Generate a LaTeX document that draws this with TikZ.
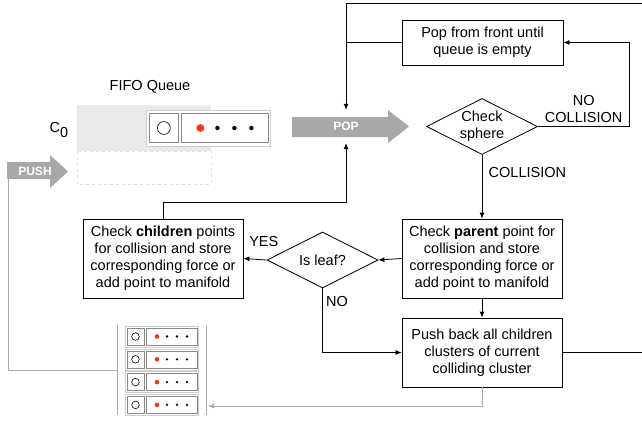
\documentclass[tikz,border=0pt]{standalone}
\usepackage{fontspec}
\setmainfont{Liberation Sans}
\usetikzlibrary{shapes.geometric,arrows.meta}

\definecolor{arrowgray}{HTML}{A8A8A8}
\definecolor{queuegray}{HTML}{E9E9E9}
\definecolor{cellgray}{HTML}{8A8A8A}
\definecolor{framegray}{HTML}{CDCDCD}
\definecolor{dashgray}{HTML}{E0E0E0}
\definecolor{wiregray}{HTML}{ABABAB}
\definecolor{dotred}{HTML}{F23A12}

\tikzset{
  box/.style={draw, line width=0.8pt, align=center, inner sep=0pt},
  test/.style={draw, diamond, aspect=2, line width=0.8pt, align=center,
    inner sep=0pt, minimum width=111pt, minimum height=56pt},
  flow/.style={line width=0.8pt, -{Latex[length=6pt,width=5pt]}},
  graywire/.style={line width=0.8pt, wiregray},
  tag/.style={font=\fontsize{12}{12}\selectfont\bfseries, text=white},
  fifocell/.pic={
    \draw[framegray, fill=white, line width=0.6pt] (0,-10.5) rectangle (73,10.5);
    \draw[cellgray, line width=0.6pt] (2,-8.5) rectangle (19,8.5);
    \draw[cellgray, line width=0.6pt] (21,-8.5) rectangle (72,8.5);
    \draw[black, line width=0.6pt] (10.5,0) circle (3.8);
    \fill[dotred] (32,0) circle (2.3);
    \foreach \d in {42,52,62}
      \fill (\d,0) circle (1.3);
  },
}

\begin{document}
\begin{tikzpicture}[x=1pt,y=-1pt,font=\fontsize{14.5}{17}\selectfont]
    \clip (0,0) rectangle (642,424);

    % queue
    \fill[queuegray] (77,105) rectangle (211,151);
    \draw[dashgray, dashed, line width=0.6pt] (77,151) rectangle (211,184);
    \node (fifo) at (150,87) {FIFO Queue};
    \node (c0) at (59,130) {C\raisebox{-5pt}{0}};
    \pic[scale=1.7] at (146,128) {fifocell};

    % fat arrows
    \fill[arrowgray] (292,117) -- (388,117) -- (388,110) -- (409,126.5)
        -- (388,143) -- (388,137) -- (292,137) -- cycle;
    \node[tag, minimum height=33pt] (pop) at (346,126.5) {POP};
    \fill[arrowgray] (7,162) -- (50,162) -- (50,155) -- (68,171.5)
        -- (50,188) -- (50,179) -- (7,179) -- cycle;
    \node[tag] (pushq) at (35,171) {PUSH};
    \coordinate (pushin) at (8,179);

    % steps
    \node[box, minimum width=161pt, minimum height=45pt] (front) at (482.5,42.5)
        {Pop from front until\\queue is empty};
    \node[test] (sphere) at (482,126.5) {Check\\sphere};
    \node[box, minimum width=160pt, minimum height=79pt] (parent) at (482,258.5)
        {Check \textbf{parent} point for\\collision and store\\corresponding force or\\add point to manifold};
    \node[test] (leaf) at (322.5,260) {Is leaf?};
    \node[box, minimum width=160pt, minimum height=79pt] (child) at (163,258.5)
        {Check \textbf{children} points\\for collision and store\\corresponding force or\\add point to manifold};
    \node[box, minimum width=160pt, minimum height=69pt] (back) at (482,352.5)
        {Push back all children\\clusters of current\\colliding cluster};

    % stack of clusters
    \draw[wiregray, line width=0.8pt] (117,325) -- (117,415) (206,325) -- (206,415);
    \foreach \r in {0,...,3}
      \pic at (125,{336.5+22.8*\r}) {fifocell};
    \coordinate (stackL) at (117,370);
    \coordinate (stackR) at (208,406);

    % connectors
    \draw[flow] (sphere.south) -- node[pos=0.28, right=3pt] {COLLISION} (parent.north);
    \draw[flow] (sphere.east) -- node[above, align=center] {NO\\COLLISION} ++(91.5,0) |- (front.east);
    \draw[line width=0.8pt] (front.west) -- (front.west -| pop.north);
    \draw[flow] (back.east) -- (660,352.5) -- (660,3) -| (pop.north);
    \draw[flow] (child.north) -- ++(0,-16) -| (pop.south);
    \draw[flow] (parent.west) -- (leaf.east);
    \draw[flow] (leaf.west) -- node[pos=0.12, above=9pt] {YES} (child.east);
    \draw[flow] (leaf.south) |- node[pos=0.1, right] {NO} (back.west);
    \draw[flow] (parent.south) -- (back.north);
    \draw[graywire, -{Latex[length=6pt,width=5pt]}] (back.south) |- (stackR);
    \draw[graywire] (stackL) -| (pushin);
\end{tikzpicture}
\end{document}
